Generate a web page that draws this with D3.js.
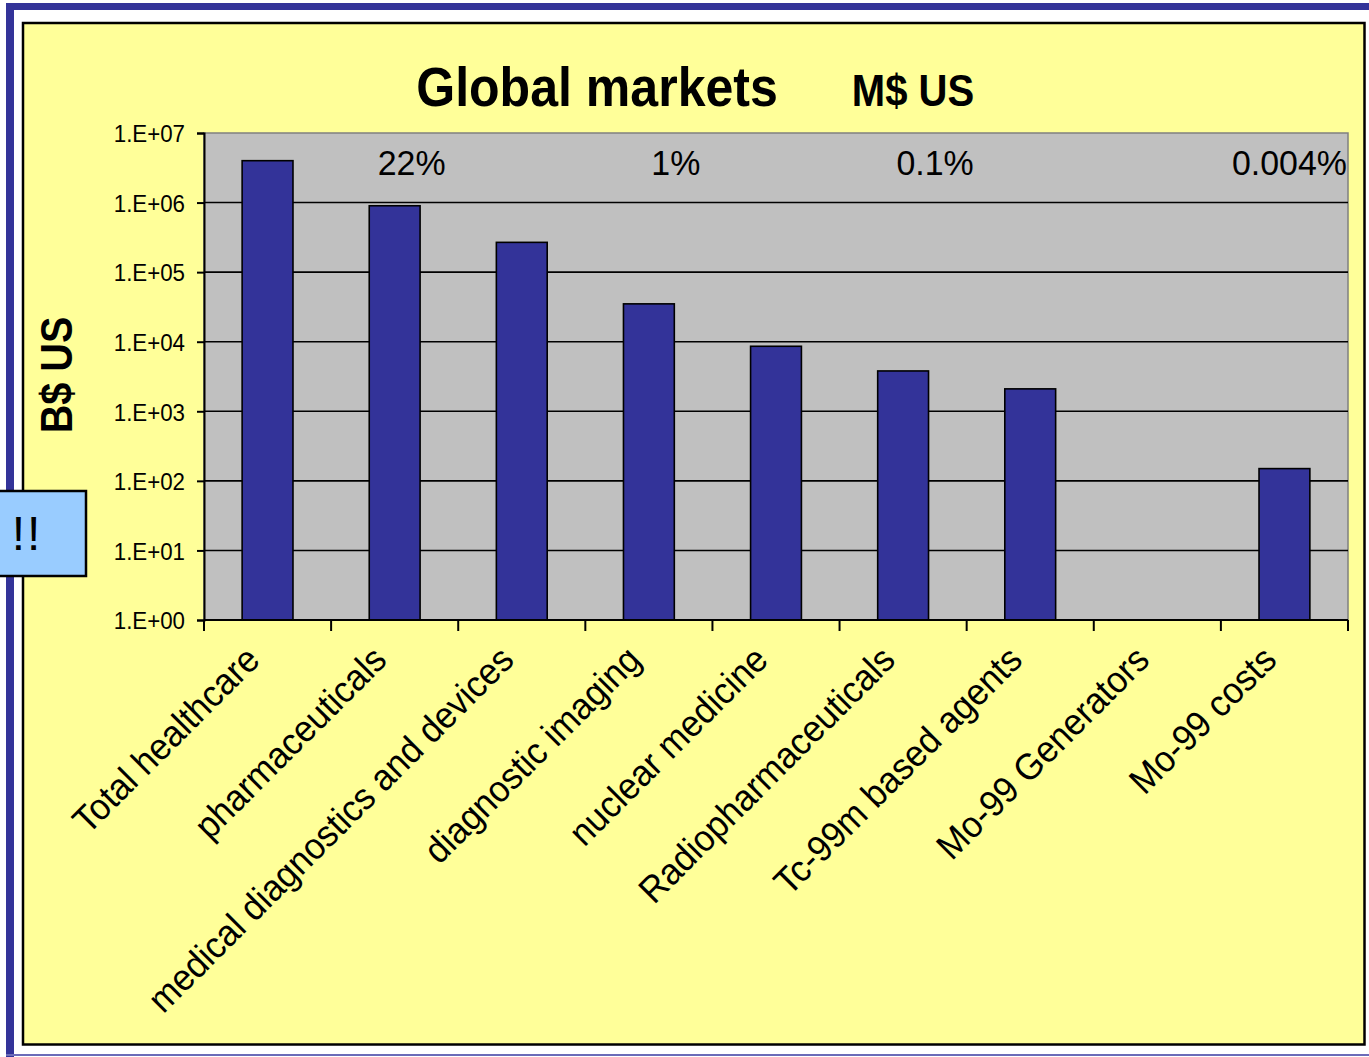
<!DOCTYPE html>
<html>
<head>
<meta charset="utf-8">
<script src="https://cdn.jsdelivr.net/npm/d3@7"></script>
<style>
  html, body { margin: 0; padding: 0; background: #ffffff; }
  svg { display: block; font-family: "Liberation Sans", Arial, Helvetica, sans-serif; }
</style>
</head>
<body>
<svg id="chart" width="1369" height="1057"></svg>
<script>
// Market sizes by segment (log scale)
const categories = [
  "Total healthcare",
  "pharmaceuticals",
  "medical diagnostics and devices",
  "diagnostic imaging",
  "nuclear medicine",
  "Radiopharmaceuticals",
  "Tc-99m based agents",
  "Mo-99 Generators",
  "Mo-99 costs"
];
const marketValues = [4000000, 900000, 268000, 35000, 8600, 3800, 2100, null, 150];

// Share-of-total annotations and the segment each one belongs to
const shareLabels = ["22%", "1%", "0.1%", "0.004%"];
const shareCategories = ["pharmaceuticals", "diagnostic imaging", "Radiopharmaceuticals", "Mo-99 costs"];

const yTickValues = [1, 10, 100, 1000, 10000, 100000, 1000000, 10000000];

const chartTitle = "Global markets";
const chartUnit = "M$ US";
const yAxisTitle = "B$ US";
const calloutText = "!!";

// ---- layout ----
const W = 1369, H = 1057;
const plot = { left: 204, right: 1348, top: 133, bottom: 620 };
const squeeze = 0.91;            // horizontal glyph compression
const labelSqueeze = 0.94;       // compression for the slanted category labels
const shareDx = [17, 27, 32, 5]; // nudges for the share annotations

const svg = d3.select("#chart");

// page frame
svg.append("rect").attr("x", 0).attr("y", 0).attr("width", W).attr("height", H).attr("fill", "#ffffff");
svg.append("rect").attr("x", 6).attr("y", 3).attr("width", W - 6).attr("height", 7).attr("fill", "#333399");
svg.append("rect").attr("x", 6).attr("y", 3).attr("width", 8).attr("height", H - 3).attr("fill", "#333399");
svg.append("rect").attr("x", 6).attr("y", 1054).attr("width", W - 6).attr("height", 2).attr("fill", "#6b6bb8");

// chart area
svg.append("rect")
  .attr("x", 23).attr("y", 23).attr("width", 1341.5).attr("height", 1021.5)
  .attr("fill", "#FFFF99").attr("stroke", "#000").attr("stroke-width", 2.5);

// scales
const xCat = d3.scaleBand().domain(categories).range([plot.left, plot.right]);
const xBar = d3.scaleBand().domain(categories).range([plot.left, plot.right])
  .paddingInner(0.6).paddingOuter(0.3);
const y = d3.scaleLog().domain([1, 1e7]).range([plot.bottom, plot.top]);

// plot background
svg.append("rect")
  .attr("x", plot.left).attr("y", plot.top)
  .attr("width", plot.right - plot.left).attr("height", plot.bottom - plot.top)
  .attr("fill", "#C0C0C0").attr("stroke", "#808080").attr("stroke-width", 1.5);

// gridlines
svg.append("g").selectAll("line")
  .data(yTickValues.filter(v => v > 1 && v < 1e7))
  .join("line")
  .attr("x1", plot.left).attr("x2", plot.right)
  .attr("y1", d => y(d)).attr("y2", d => y(d))
  .attr("stroke", "#000").attr("stroke-width", 1.6);

// bars
svg.append("g").selectAll("rect")
  .data(categories.map((c, i) => ({ c, v: marketValues[i] })).filter(d => d.v != null))
  .join("rect")
  .attr("x", d => xBar(d.c))
  .attr("width", xBar.bandwidth())
  .attr("y", d => y(d.v))
  .attr("height", d => y(1) - y(d.v))
  .attr("fill", "#333399")
  .attr("stroke", "#000").attr("stroke-width", 1.6);

// y axis
const fmtExp = v => "1.E+" + String(Math.round(Math.log10(v))).padStart(2, "0");
const yAxis = d3.axisLeft(y).tickValues(yTickValues).tickFormat(fmtExp).tickSize(7).tickPadding(12);
const gy = svg.append("g").attr("transform", `translate(${plot.left},0)`).call(yAxis);
gy.select(".domain").attr("stroke", "#000").attr("stroke-width", 2);
gy.selectAll(".tick line").attr("stroke", "#000").attr("stroke-width", 2);
gy.selectAll(".tick text")
  .attr("fill", "#000")
  .attr("font-size", 24.5)
  .attr("font-family", "Liberation Sans, Arial, sans-serif")
  .attr("dy", "0.36em")
  .attr("transform", function () {
    const x = +d3.select(this).attr("x");
    return `translate(${x * (1 - squeeze)},0) scale(${squeeze},1)`;
  });

// x axis: ticks at category boundaries
const boundaries = categories.map(c => xCat(c)).concat([plot.right]);
svg.append("line")
  .attr("x1", plot.left).attr("x2", plot.right)
  .attr("y1", plot.bottom).attr("y2", plot.bottom)
  .attr("stroke", "#000").attr("stroke-width", 2);
svg.append("g").selectAll("line")
  .data(boundaries)
  .join("line")
  .attr("x1", d => d).attr("x2", d => d)
  .attr("y1", plot.bottom).attr("y2", plot.bottom + 11)
  .attr("stroke", "#000").attr("stroke-width", 2);

// category labels
svg.append("g").selectAll("text")
  .data(categories)
  .join("text")
  .attr("transform", d => `translate(${xCat(d) + xCat.bandwidth() / 2 - 6},${plot.bottom + 42}) rotate(-45) scale(${labelSqueeze},1)`)
  .attr("text-anchor", "end")
  .attr("font-size", 37)
  .attr("fill", "#000")
  .text(d => d);

// share annotations
svg.append("g").selectAll("text")
  .data(shareLabels.map((t, i) => ({ t, c: shareCategories[i], dx: shareDx[i] })))
  .join("text")
  .attr("transform", d => `translate(${xCat(d.c) + xCat.bandwidth() / 2 + d.dx},${plot.top + 42}) scale(0.97,1)`)
  .attr("text-anchor", "middle")
  .attr("font-size", 35)
  .attr("fill", "#000")
  .text(d => d.t);

// titles
svg.append("text")
  .attr("transform", `translate(597,106) scale(${squeeze},1)`)
  .attr("text-anchor", "middle")
  .attr("font-size", 55).attr("font-weight", "bold")
  .text(chartTitle);
svg.append("text")
  .attr("transform", `translate(913,106) scale(${squeeze},1)`)
  .attr("text-anchor", "middle")
  .attr("font-size", 44).attr("font-weight", "bold")
  .text(chartUnit);
svg.append("text")
  .attr("transform", `translate(72,375) rotate(-90) scale(0.88,1)`)
  .attr("text-anchor", "middle")
  .attr("font-size", 45).attr("font-weight", "bold")
  .text(yAxisTitle);

// callout box
svg.append("rect")
  .attr("x", -5).attr("y", 491).attr("width", 91).attr("height", 85)
  .attr("fill", "#99CCFF").attr("stroke", "#000").attr("stroke-width", 2.5);
svg.append("text")
  .attr("x", 27).attr("y", 550)
  .attr("text-anchor", "middle")
  .attr("font-size", 48)
  .attr("letter-spacing", 2)
  .text(calloutText);
</script>
</body>
</html>
